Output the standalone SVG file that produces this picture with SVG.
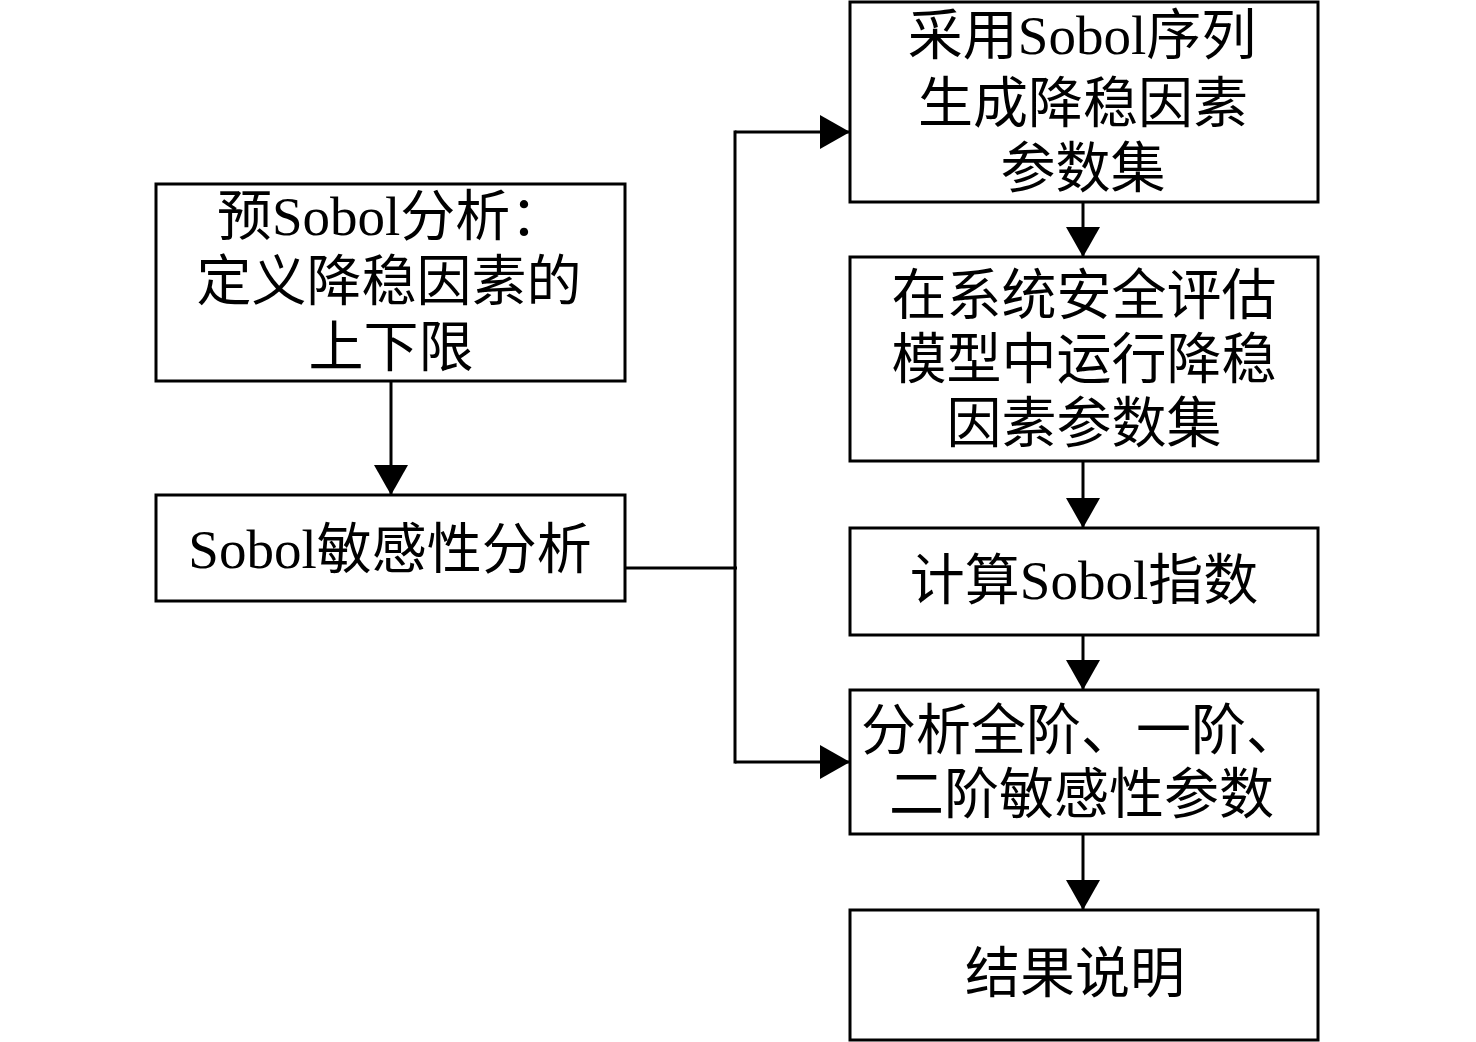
<svg xmlns="http://www.w3.org/2000/svg" width="1476" height="1042" viewBox="0 0 1476 1042">
<defs>
<style>
.box{fill:#fff;stroke:#000;stroke-width:3}
.t{font-family:"Liberation Serif","Noto Sans CJK SC",serif;font-size:55px;fill:#000}
.c{text-anchor:middle}
.ln{fill:none;stroke:#000;stroke-width:3}
</style>
<marker id="ah" markerUnits="userSpaceOnUse" markerWidth="30" markerHeight="34" refX="30" refY="17" orient="auto">
<path d="M0,0 L30,17 L0,34 z" fill="#000"/>
</marker>
</defs>
<rect width="1476" height="1042" fill="#fff"/>
<g id="connectors">
<line class="ln" x1="391" y1="381" x2="391" y2="495" marker-end="url(#ah)"/>
<polyline class="ln" points="625,568 737,568"/>
<line class="ln" x1="735" y1="130.5" x2="735" y2="763.5"/>
<polyline class="ln" points="735,132 850,132" marker-end="url(#ah)"/>
<polyline class="ln" points="735,762 850,762" marker-end="url(#ah)"/>
<line class="ln" x1="1083" y1="202" x2="1083" y2="257" marker-end="url(#ah)"/>
<line class="ln" x1="1083" y1="461" x2="1083" y2="528" marker-end="url(#ah)"/>
<line class="ln" x1="1083" y1="635" x2="1083" y2="690" marker-end="url(#ah)"/>
<line class="ln" x1="1083" y1="834" x2="1083" y2="910" marker-end="url(#ah)"/>
</g>
<g id="n1">
<rect class="box" x="156" y="184" width="469" height="197"/>
<text class="t" x="217" y="235">预Sobol分析：</text>
<text class="t c" x="389" y="300">定义降稳因素的</text>
<text class="t c" x="391" y="366">上下限</text>
</g>
<g id="n2">
<rect class="box" x="156" y="495" width="469" height="106"/>
<text class="t c" x="390" y="568">Sobol敏感性分析</text>
</g>
<g id="n3">
<rect class="box" x="850" y="2" width="468" height="200"/>
<text class="t c" x="1082" y="54">采用Sobol序列</text>
<text class="t c" x="1083" y="122">生成降稳因素</text>
<text class="t c" x="1083" y="187">参数集</text>
</g>
<g id="n4">
<rect class="box" x="850" y="257" width="468" height="204"/>
<text class="t c" x="1084" y="314">在系统安全评估</text>
<text class="t c" x="1084" y="378">模型中运行降稳</text>
<text class="t c" x="1084" y="442">因素参数集</text>
</g>
<g id="n5">
<rect class="box" x="850" y="528" width="468" height="107"/>
<text class="t c" x="1084" y="599">计算Sobol指数</text>
</g>
<g id="n6">
<rect class="box" x="850" y="690" width="468" height="144"/>
<text class="t" x="861" y="749">分析全阶、一阶、</text>
<text class="t" x="889" y="813">二阶敏感性参数</text>
</g>
<g id="n7">
<rect class="box" x="850" y="910" width="468" height="130"/>
<text class="t c" x="1075" y="992">结果说明</text>
</g>
</svg>
